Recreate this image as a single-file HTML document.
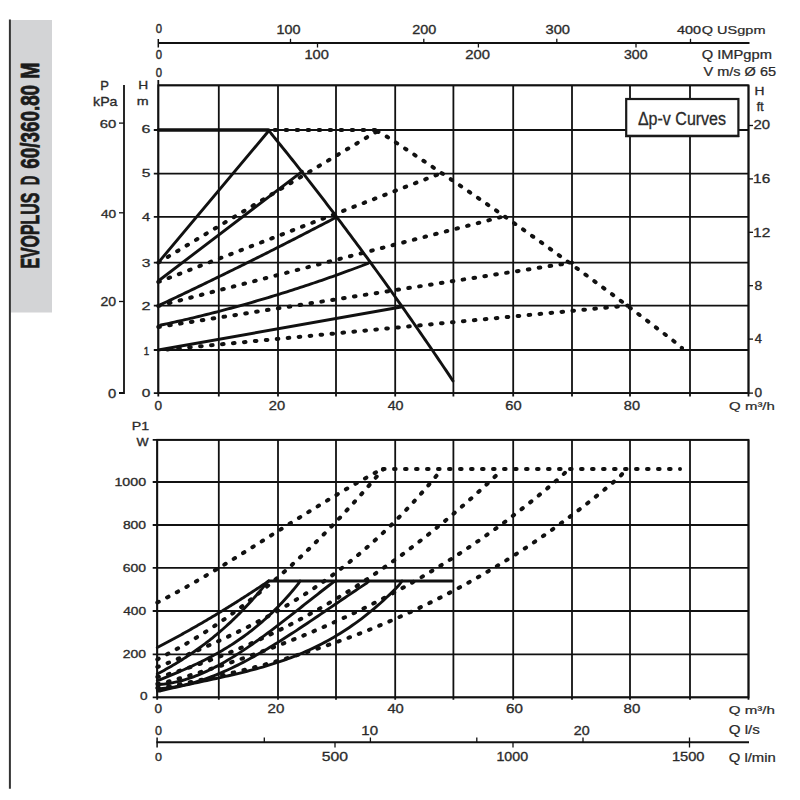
<!DOCTYPE html>
<html><head><meta charset="utf-8"><title>EVOPLUS D 60/360.80 M</title>
<style>
html,body{margin:0;padding:0;background:#fff;}
body{width:800px;height:800px;overflow:hidden;position:relative;}
svg{position:absolute;left:0;top:0;}
text{font-family:'Liberation Sans',Arial,sans-serif;font-kerning:none;}
</style></head><body>
<svg width="800" height="800" viewBox="0 0 800 800">
<rect x="0" y="0" width="800" height="800" fill="#fff"/>
<rect x="10.5" y="20" width="41.5" height="292.5" fill="#d3d4d6"/>
<line x1="9.9" y1="19.5" x2="9.9" y2="788.7" stroke="#333" stroke-width="2"/>
<text y="38.85" transform="translate(0,331.0) rotate(-90)" font-size="25.73" font-weight="bold" fill="#1b1b1b" stroke="#1b1b1b" stroke-width="0.8" stroke-linejoin="round"><tspan x="62.44" textLength="75.78" lengthAdjust="spacingAndGlyphs">EVOPLUS</tspan> <tspan x="145.72" textLength="9.54" lengthAdjust="spacingAndGlyphs">D</tspan> <tspan x="162.21" textLength="83.91" lengthAdjust="spacingAndGlyphs">60/360.80</tspan> <tspan x="252.20" textLength="16.20" lengthAdjust="spacingAndGlyphs">M</tspan></text>
<line x1="158.3" y1="80.0" x2="158.3" y2="396.6" stroke="#111" stroke-width="1.8"/>
<line x1="218.8" y1="85.3" x2="218.8" y2="396.6" stroke="#111" stroke-width="1.8"/>
<line x1="278.0" y1="85.3" x2="278.0" y2="396.6" stroke="#111" stroke-width="1.8"/>
<line x1="336.0" y1="85.3" x2="336.0" y2="396.6" stroke="#111" stroke-width="1.8"/>
<line x1="395.2" y1="85.3" x2="395.2" y2="396.6" stroke="#111" stroke-width="1.8"/>
<line x1="453.4" y1="85.3" x2="453.4" y2="396.6" stroke="#111" stroke-width="1.8"/>
<line x1="513.2" y1="85.3" x2="513.2" y2="396.6" stroke="#111" stroke-width="1.8"/>
<line x1="572.0" y1="85.3" x2="572.0" y2="396.6" stroke="#111" stroke-width="1.8"/>
<line x1="630.0" y1="85.3" x2="630.0" y2="396.6" stroke="#111" stroke-width="1.8"/>
<line x1="690.0" y1="85.3" x2="690.0" y2="396.6" stroke="#111" stroke-width="1.8"/>
<line x1="748.5" y1="85.3" x2="748.5" y2="396.6" stroke="#111" stroke-width="1.8"/>
<line x1="153.8" y1="393.1" x2="748.5" y2="393.1" stroke="#111" stroke-width="1.8"/>
<line x1="153.8" y1="350.0" x2="748.5" y2="350.0" stroke="#111" stroke-width="1.8"/>
<line x1="153.8" y1="305.6" x2="748.5" y2="305.6" stroke="#111" stroke-width="1.8"/>
<line x1="153.8" y1="262.6" x2="748.5" y2="262.6" stroke="#111" stroke-width="1.8"/>
<line x1="153.8" y1="216.8" x2="748.5" y2="216.8" stroke="#111" stroke-width="1.8"/>
<line x1="153.8" y1="173.6" x2="748.5" y2="173.6" stroke="#111" stroke-width="1.8"/>
<line x1="153.8" y1="130.0" x2="748.5" y2="130.0" stroke="#111" stroke-width="1.8"/>
<line x1="158.3" y1="85.3" x2="748.5" y2="85.3" stroke="#111" stroke-width="1.8"/>
<line x1="157.2" y1="439.8" x2="157.2" y2="699.8" stroke="#111" stroke-width="1.8"/>
<line x1="218.8" y1="439.8" x2="218.8" y2="699.8" stroke="#111" stroke-width="1.8"/>
<line x1="278.0" y1="439.8" x2="278.0" y2="699.8" stroke="#111" stroke-width="1.8"/>
<line x1="336.0" y1="439.8" x2="336.0" y2="699.8" stroke="#111" stroke-width="1.8"/>
<line x1="395.2" y1="439.8" x2="395.2" y2="699.8" stroke="#111" stroke-width="1.8"/>
<line x1="453.4" y1="439.8" x2="453.4" y2="699.8" stroke="#111" stroke-width="1.8"/>
<line x1="513.2" y1="439.8" x2="513.2" y2="699.8" stroke="#111" stroke-width="1.8"/>
<line x1="572.0" y1="439.8" x2="572.0" y2="699.8" stroke="#111" stroke-width="1.8"/>
<line x1="630.0" y1="439.8" x2="630.0" y2="699.8" stroke="#111" stroke-width="1.8"/>
<line x1="690.0" y1="439.8" x2="690.0" y2="699.8" stroke="#111" stroke-width="1.8"/>
<line x1="748.5" y1="439.8" x2="748.5" y2="699.8" stroke="#111" stroke-width="1.8"/>
<line x1="152.7" y1="697.3" x2="748.5" y2="697.3" stroke="#111" stroke-width="1.8"/>
<line x1="152.7" y1="654.3" x2="748.5" y2="654.3" stroke="#111" stroke-width="1.8"/>
<line x1="152.7" y1="611.0" x2="748.5" y2="611.0" stroke="#111" stroke-width="1.8"/>
<line x1="152.7" y1="567.8" x2="748.5" y2="567.8" stroke="#111" stroke-width="1.8"/>
<line x1="152.7" y1="525.0" x2="748.5" y2="525.0" stroke="#111" stroke-width="1.8"/>
<line x1="152.7" y1="482.0" x2="748.5" y2="482.0" stroke="#111" stroke-width="1.8"/>
<line x1="152.7" y1="439.8" x2="748.5" y2="439.8" stroke="#111" stroke-width="1.8"/>
<rect x="158.3" y="85.3" width="590.2" height="307.8" fill="none" stroke="#111" stroke-width="1.8"/>
<rect x="157.2" y="439.8" width="591.3" height="257.49999999999994" fill="none" stroke="#111" stroke-width="1.8"/>
<line x1="158.3" y1="43" x2="749.5" y2="43" stroke="#111" stroke-width="2"/>
<line x1="158.3" y1="39" x2="158.3" y2="47.5" stroke="#111" stroke-width="1.5"/>
<line x1="290.5" y1="38.8" x2="290.5" y2="43" stroke="#111" stroke-width="1.3"/>
<line x1="423.8" y1="38.8" x2="423.8" y2="43" stroke="#111" stroke-width="1.3"/>
<line x1="556.8" y1="38.8" x2="556.8" y2="43" stroke="#111" stroke-width="1.3"/>
<line x1="690.5" y1="38.8" x2="690.5" y2="43" stroke="#111" stroke-width="1.3"/>
<line x1="317.5" y1="43" x2="317.5" y2="47.5" stroke="#111" stroke-width="1.3"/>
<line x1="478.4" y1="43" x2="478.4" y2="47.5" stroke="#111" stroke-width="1.3"/>
<line x1="636.0" y1="43" x2="636.0" y2="47.5" stroke="#111" stroke-width="1.3"/>
<polyline points="124,85 124,393 119,393" fill="none" stroke="#111" stroke-width="1.8"/>
<line x1="119" y1="123.1" x2="124" y2="123.1" stroke="#111" stroke-width="1.3"/>
<line x1="119" y1="212.8" x2="124" y2="212.8" stroke="#111" stroke-width="1.3"/>
<line x1="119" y1="301.5" x2="124" y2="301.5" stroke="#111" stroke-width="1.3"/>
<line x1="748.5" y1="125.5" x2="753.0" y2="125.5" stroke="#111" stroke-width="1.3"/>
<line x1="748.5" y1="178.9" x2="753.0" y2="178.9" stroke="#111" stroke-width="1.3"/>
<line x1="748.5" y1="232.3" x2="753.0" y2="232.3" stroke="#111" stroke-width="1.3"/>
<line x1="748.5" y1="285.7" x2="753.0" y2="285.7" stroke="#111" stroke-width="1.3"/>
<line x1="748.5" y1="339.1" x2="753.0" y2="339.1" stroke="#111" stroke-width="1.3"/>
<line x1="748.5" y1="393.1" x2="753.0" y2="393.1" stroke="#111" stroke-width="1.3"/>
<line x1="156.4" y1="742.3" x2="749" y2="742.3" stroke="#111" stroke-width="2"/>
<line x1="157.1" y1="737.5" x2="157.1" y2="747.5" stroke="#111" stroke-width="1.5"/>
<line x1="264.3" y1="737.5" x2="264.3" y2="742.3" stroke="#111" stroke-width="1.3"/>
<line x1="370.4" y1="737.5" x2="370.4" y2="742.3" stroke="#111" stroke-width="1.3"/>
<line x1="476.8" y1="737.5" x2="476.8" y2="742.3" stroke="#111" stroke-width="1.3"/>
<line x1="583.0" y1="737.5" x2="583.0" y2="742.3" stroke="#111" stroke-width="1.3"/>
<line x1="689.5" y1="737.5" x2="689.5" y2="742.3" stroke="#111" stroke-width="1.3"/>
<line x1="335.0" y1="742.3" x2="335.0" y2="747.5" stroke="#111" stroke-width="1.3"/>
<line x1="513.0" y1="742.3" x2="513.0" y2="747.5" stroke="#111" stroke-width="1.3"/>
<line x1="689.5" y1="742.3" x2="689.5" y2="747.5" stroke="#111" stroke-width="1.3"/>
<path d="M158.30,130.00 L268.50,130.00" fill="none" stroke="#111" stroke-width="3.6" stroke-linejoin="round" stroke-linecap="round"/>
<path d="M158.30,262.60 L269.00,130.50" fill="none" stroke="#111" stroke-width="2.9" stroke-linejoin="round" stroke-linecap="round"/>
<path d="M269.00,130.50 L271.33,133.75 L273.66,136.60 L275.99,139.47 L278.32,142.34 L280.65,145.22 L282.97,148.11 L285.30,151.00 L287.63,153.91 L289.96,156.82 L292.29,159.74 L294.62,162.67 L296.95,165.60 L299.28,168.55 L301.61,171.50 L303.94,174.46 L306.27,177.43 L308.59,180.41 L310.92,183.39 L313.25,186.38 L315.58,189.39 L317.91,192.40 L320.24,195.41 L322.57,198.44 L324.90,201.47 L327.23,204.51 L329.56,207.56 L331.89,210.62 L334.22,213.69 L336.54,216.76 L338.87,219.85 L341.20,222.94 L343.53,226.04 L345.86,229.14 L348.19,232.26 L350.52,235.38 L352.85,238.51 L355.18,241.65 L357.51,244.80 L359.84,247.95 L362.16,251.12 L364.49,254.29 L366.82,257.47 L369.15,260.66 L371.48,263.85 L373.81,267.06 L376.14,270.27 L378.47,273.49 L380.80,276.72 L383.13,279.95 L385.46,283.20 L387.78,286.45 L390.11,289.71 L392.44,292.98 L394.77,296.26 L397.10,299.55 L399.43,302.84 L401.76,306.14 L404.09,309.45 L406.42,312.77 L408.75,316.09 L411.08,319.43 L413.41,322.77 L415.73,326.12 L418.06,329.48 L420.39,332.85 L422.72,336.22 L425.05,339.60 L427.38,342.99 L429.71,346.39 L432.04,349.80 L434.37,353.21 L436.70,356.64 L439.03,360.07 L441.35,363.51 L443.68,366.96 L446.01,370.41 L448.34,373.88 L450.67,377.35 L453.00,381.00" fill="none" stroke="#111" stroke-width="2.9" stroke-linejoin="round" stroke-linecap="round"/>
<path d="M158.30,281.00 L302.30,171.30" fill="none" stroke="#111" stroke-width="2.9" stroke-linejoin="round" stroke-linecap="round"/>
<path d="M158.30,306.00 L160.56,304.68 L162.81,303.62 L165.07,302.55 L167.32,301.49 L169.58,300.42 L171.83,299.36 L174.09,298.29 L176.35,297.22 L178.60,296.14 L180.86,295.07 L183.11,294.00 L185.37,292.92 L187.62,291.84 L189.88,290.76 L192.14,289.68 L194.39,288.60 L196.65,287.51 L198.90,286.42 L201.16,285.34 L203.41,284.25 L205.67,283.15 L207.93,282.06 L210.18,280.97 L212.44,279.87 L214.69,278.77 L216.95,277.67 L219.20,276.57 L221.46,275.47 L223.72,274.37 L225.97,273.26 L228.23,272.15 L230.48,271.05 L232.74,269.94 L234.99,268.82 L237.25,267.71 L239.51,266.60 L241.76,265.48 L244.02,264.36 L246.27,263.24 L248.53,262.12 L250.78,261.00 L253.04,259.87 L255.29,258.75 L257.55,257.62 L259.81,256.49 L262.06,255.36 L264.32,254.23 L266.57,253.09 L268.83,251.96 L271.08,250.82 L273.34,249.68 L275.60,248.54 L277.85,247.40 L280.11,246.25 L282.36,245.11 L284.62,243.96 L286.87,242.81 L289.13,241.66 L291.39,240.51 L293.64,239.36 L295.90,238.20 L298.15,237.05 L300.41,235.89 L302.66,234.73 L304.92,233.57 L307.18,232.41 L309.43,231.24 L311.69,230.08 L313.94,228.91 L316.20,227.74 L318.45,226.57 L320.71,225.40 L322.97,224.22 L325.22,223.05 L327.48,221.87 L329.73,220.69 L331.99,219.51 L334.24,218.33 L336.50,217.00" fill="none" stroke="#111" stroke-width="2.9" stroke-linejoin="round" stroke-linecap="round"/>
<path d="M158.30,327.00 L160.98,325.04 L163.66,324.47 L166.34,323.89 L169.02,323.31 L171.70,322.72 L174.38,322.12 L177.06,321.52 L179.74,320.92 L182.42,320.30 L185.10,319.68 L187.78,319.06 L190.46,318.43 L193.14,317.79 L195.82,317.15 L198.50,316.50 L201.18,315.84 L203.86,315.18 L206.54,314.52 L209.22,313.84 L211.89,313.16 L214.57,312.48 L217.25,311.79 L219.93,311.09 L222.61,310.39 L225.29,309.68 L227.97,308.97 L230.65,308.25 L233.33,307.52 L236.01,306.79 L238.69,306.05 L241.37,305.31 L244.05,304.56 L246.73,303.81 L249.41,303.05 L252.09,302.28 L254.77,301.51 L257.45,300.73 L260.13,299.94 L262.81,299.15 L265.49,298.35 L268.17,297.55 L270.85,296.74 L273.53,295.93 L276.21,295.11 L278.89,294.28 L281.57,293.45 L284.25,292.61 L286.93,291.77 L289.61,290.92 L292.29,290.06 L294.97,289.20 L297.65,288.33 L300.33,287.46 L303.01,286.58 L305.69,285.69 L308.37,284.80 L311.05,283.91 L313.73,283.00 L316.41,282.09 L319.08,281.18 L321.76,280.26 L324.44,279.33 L327.12,278.40 L329.80,277.46 L332.48,276.52 L335.16,275.57 L337.84,274.61 L340.52,273.65 L343.20,272.68 L345.88,271.70 L348.56,270.72 L351.24,269.74 L353.92,268.75 L356.60,267.75 L359.28,266.75 L361.96,265.74 L364.64,264.72 L367.32,263.70 L370.00,262.00" fill="none" stroke="#111" stroke-width="2.9" stroke-linejoin="round" stroke-linecap="round"/>
<path d="M158.30,350.00 L401.00,307.00" fill="none" stroke="#111" stroke-width="2.9" stroke-linejoin="round" stroke-linecap="round"/>
<path d="M269.00,130.00 L376.00,130.00" fill="none" stroke="#111" stroke-width="4.0" stroke-linecap="round" stroke-dasharray="1.6 9.4" stroke-dashoffset="-5.6"/>
<path d="M158.30,262.60 L161.07,260.94 L163.84,259.27 L166.61,257.60 L169.37,255.93 L172.14,254.27 L174.91,252.60 L177.68,250.93 L180.45,249.26 L183.22,247.60 L185.98,245.93 L188.75,244.26 L191.52,242.60 L194.29,240.93 L197.06,239.26 L199.83,237.60 L202.59,235.93 L205.36,234.26 L208.13,232.60 L210.90,230.93 L213.67,229.27 L216.44,227.60 L219.20,225.94 L221.97,224.27 L224.74,222.61 L227.51,220.94 L230.28,219.28 L233.05,217.62 L235.81,215.95 L238.58,214.29 L241.35,212.63 L244.12,210.96 L246.89,209.30 L249.66,207.64 L252.42,205.97 L255.19,204.31 L257.96,202.65 L260.73,200.99 L263.50,199.32 L266.27,197.66 L269.03,196.00 L271.80,194.34 L274.57,192.68 L277.34,191.02 L280.11,189.35 L282.88,187.69 L285.64,186.03 L288.41,184.37 L291.18,182.71 L293.95,181.05 L296.72,179.39 L299.49,177.73 L302.25,176.07 L305.02,174.41 L307.79,172.75 L310.56,171.09 L313.33,169.44 L316.10,167.78 L318.86,166.12 L321.63,164.46 L324.40,162.80 L327.17,161.14 L329.94,159.49 L332.71,157.83 L335.47,156.17 L338.24,154.51 L341.01,152.86 L343.78,151.20 L346.55,149.54 L349.32,147.89 L352.08,146.23 L354.85,144.57 L357.62,142.92 L360.39,141.26 L363.16,139.61 L365.93,137.95 L368.69,136.29 L371.46,134.64 L374.23,132.98 L377.00,131.50" fill="none" stroke="#111" stroke-width="4.0" stroke-linecap="round" stroke-dasharray="1.6 9.4" stroke-dashoffset="0"/>
<path d="M377.00,131.50 L380.86,132.71 L384.72,135.22 L388.58,137.75 L392.44,140.28 L396.30,142.81 L400.16,145.36 L404.03,147.90 L407.89,150.46 L411.75,153.02 L415.61,155.59 L419.47,158.16 L423.33,160.74 L427.19,163.32 L431.05,165.91 L434.91,168.51 L438.77,171.11 L442.63,173.72 L446.49,176.34 L450.35,178.96 L454.22,181.59 L458.08,184.22 L461.94,186.86 L465.80,189.51 L469.66,192.16 L473.52,194.82 L477.38,197.49 L481.24,200.16 L485.10,202.83 L488.96,205.52 L492.82,208.21 L496.68,210.90 L500.54,213.60 L504.41,216.31 L508.27,219.02 L512.13,221.74 L515.99,224.47 L519.85,227.20 L523.71,229.94 L527.57,232.68 L531.43,235.44 L535.29,238.19 L539.15,240.95 L543.01,243.72 L546.87,246.50 L550.73,249.28 L554.59,252.07 L558.46,254.86 L562.32,257.66 L566.18,260.47 L570.04,263.28 L573.90,266.10 L577.76,268.92 L581.62,271.75 L585.48,274.59 L589.34,277.43 L593.20,280.28 L597.06,283.13 L600.92,285.99 L604.78,288.86 L608.65,291.73 L612.51,294.61 L616.37,297.50 L620.23,300.39 L624.09,303.29 L627.95,306.19 L631.81,309.10 L635.67,312.02 L639.53,314.94 L643.39,317.87 L647.25,320.80 L651.11,323.74 L654.97,326.69 L658.84,329.64 L662.70,332.60 L666.56,335.56 L670.42,338.54 L674.28,341.51 L678.14,344.50 L682.00,348.00" fill="none" stroke="#111" stroke-width="4.0" stroke-linecap="round" stroke-dasharray="1.6 9.4" stroke-dashoffset="0"/>
<path d="M158.30,282.00 L438.00,174.40" fill="none" stroke="#111" stroke-width="4.0" stroke-linecap="round" stroke-dasharray="1.6 9.4" stroke-dashoffset="0"/>
<path d="M158.30,306.00 L502.00,216.80" fill="none" stroke="#111" stroke-width="4.0" stroke-linecap="round" stroke-dasharray="1.6 9.4" stroke-dashoffset="0"/>
<path d="M158.30,327.00 L572.00,262.60" fill="none" stroke="#111" stroke-width="4.0" stroke-linecap="round" stroke-dasharray="1.6 9.4" stroke-dashoffset="0"/>
<path d="M158.30,350.30 L627.50,305.60" fill="none" stroke="#111" stroke-width="4.0" stroke-linecap="round" stroke-dasharray="1.6 9.4" stroke-dashoffset="2"/>
<path d="M268.70,581.00 L452.00,581.00" fill="none" stroke="#111" stroke-width="3.2" stroke-linejoin="round" stroke-linecap="round"/>
<path d="M157.30,647.50 L158.71,646.77 L160.12,646.03 L161.53,645.29 L162.94,644.55 L164.35,643.80 L165.76,643.06 L167.17,642.31 L168.58,641.55 L169.99,640.80 L171.40,640.04 L172.81,639.28 L174.22,638.51 L175.63,637.75 L177.04,636.98 L178.45,636.20 L179.86,635.43 L181.27,634.65 L182.68,633.87 L184.09,633.09 L185.50,632.30 L186.91,631.51 L188.32,630.72 L189.73,629.92 L191.14,629.13 L192.55,628.33 L193.96,627.52 L195.37,626.72 L196.78,625.91 L198.19,625.10 L199.60,624.28 L201.01,623.47 L202.42,622.65 L203.83,621.83 L205.24,621.00 L206.65,620.17 L208.06,619.34 L209.47,618.51 L210.88,617.67 L212.29,616.83 L213.71,615.99 L215.12,615.15 L216.53,614.30 L217.94,613.45 L219.35,612.60 L220.76,611.74 L222.17,610.88 L223.58,610.02 L224.99,609.16 L226.40,608.29 L227.81,607.42 L229.22,606.55 L230.63,605.67 L232.04,604.80 L233.45,603.92 L234.86,603.03 L236.27,602.15 L237.68,601.26 L239.09,600.37 L240.50,599.47 L241.91,598.57 L243.32,597.67 L244.73,596.77 L246.14,595.87 L247.55,594.96 L248.96,594.05 L250.37,593.13 L251.78,592.22 L253.19,591.30 L254.60,590.37 L256.01,589.45 L257.42,588.52 L258.83,587.59 L260.24,586.66 L261.65,585.72 L263.06,584.78 L264.47,583.84 L265.88,582.90 L267.29,581.95 L268.70,581.00" fill="none" stroke="#111" stroke-width="2.9" stroke-linejoin="round" stroke-linecap="round"/>
<path d="M157.30,674.00 L158.71,673.21 L160.12,672.45 L161.53,671.69 L162.94,670.92 L164.35,670.15 L165.76,669.36 L167.17,668.57 L168.58,667.77 L169.99,666.96 L171.40,666.15 L172.81,665.32 L174.22,664.48 L175.63,663.64 L177.04,662.79 L178.45,661.93 L179.86,661.05 L181.27,660.17 L182.68,659.28 L184.09,658.38 L185.50,657.47 L186.91,656.55 L188.32,655.61 L189.73,654.67 L191.14,653.72 L192.55,652.75 L193.96,651.78 L195.37,650.79 L196.78,649.79 L198.19,648.79 L199.60,647.76 L201.01,646.73 L202.42,645.69 L203.83,644.63 L205.24,643.56 L206.65,642.48 L208.06,641.39 L209.47,640.28 L210.88,639.16 L212.29,638.03 L213.71,636.89 L215.12,635.73 L216.53,634.56 L217.94,633.37 L219.35,632.17 L220.76,630.96 L222.17,629.73 L223.58,628.49 L224.99,627.24 L226.40,625.97 L227.81,624.68 L229.22,623.38 L230.63,622.07 L232.04,620.74 L233.45,619.40 L234.86,618.04 L236.27,616.66 L237.68,615.27 L239.09,613.87 L240.50,612.44 L241.91,611.01 L243.32,609.55 L244.73,608.08 L246.14,606.59 L247.55,605.09 L248.96,603.57 L250.37,602.03 L251.78,600.47 L253.19,598.90 L254.60,597.31 L256.01,595.70 L257.42,594.07 L258.83,592.43 L260.24,590.77 L261.65,589.09 L263.06,587.39 L264.47,585.67 L265.88,583.94 L267.29,582.18 L268.70,581.00" fill="none" stroke="#111" stroke-width="2.9" stroke-linejoin="round" stroke-linecap="round"/>
<path d="M157.30,680.50 L159.11,680.08 L160.91,679.34 L162.72,678.60 L164.53,677.86 L166.33,677.12 L168.14,676.37 L169.94,675.62 L171.75,674.87 L173.56,674.12 L175.36,673.36 L177.17,672.59 L178.98,671.82 L180.78,671.04 L182.59,670.26 L184.39,669.47 L186.20,668.67 L188.01,667.87 L189.81,667.05 L191.62,666.23 L193.43,665.40 L195.23,664.55 L197.04,663.70 L198.85,662.84 L200.65,661.96 L202.46,661.08 L204.26,660.18 L206.07,659.26 L207.88,658.34 L209.68,657.40 L211.49,656.44 L213.30,655.48 L215.10,654.49 L216.91,653.49 L218.72,652.47 L220.52,651.44 L222.33,650.39 L224.13,649.32 L225.94,648.23 L227.75,647.13 L229.55,646.00 L231.36,644.85 L233.17,643.69 L234.97,642.50 L236.78,641.29 L238.58,640.06 L240.39,638.81 L242.20,637.53 L244.00,636.23 L245.81,634.91 L247.62,633.56 L249.42,632.19 L251.23,630.79 L253.04,629.37 L254.84,627.92 L256.65,626.44 L258.45,624.94 L260.26,623.40 L262.07,621.84 L263.87,620.25 L265.68,618.63 L267.49,616.98 L269.29,615.30 L271.10,613.59 L272.91,611.85 L274.71,610.08 L276.52,608.27 L278.32,606.43 L280.13,604.56 L281.94,602.65 L283.74,600.71 L285.55,598.74 L287.36,596.72 L289.16,594.68 L290.97,592.59 L292.77,590.47 L294.58,588.32 L296.39,586.12 L298.19,583.89 L300.00,581.00" fill="none" stroke="#111" stroke-width="2.9" stroke-linejoin="round" stroke-linecap="round"/>
<path d="M157.30,685.40 L159.56,684.49 L161.82,684.30 L164.09,684.07 L166.35,683.79 L168.61,683.46 L170.87,683.08 L173.13,682.65 L175.40,682.18 L177.66,681.66 L179.92,681.09 L182.18,680.49 L184.44,679.83 L186.71,679.14 L188.97,678.41 L191.23,677.63 L193.49,676.81 L195.75,675.96 L198.02,675.07 L200.28,674.14 L202.54,673.17 L204.80,672.17 L207.06,671.13 L209.33,670.05 L211.59,668.95 L213.85,667.81 L216.11,666.64 L218.37,665.44 L220.64,664.21 L222.90,662.94 L225.16,661.65 L227.42,660.34 L229.68,658.99 L231.95,657.62 L234.21,656.22 L236.47,654.80 L238.73,653.36 L240.99,651.89 L243.26,650.40 L245.52,648.88 L247.78,647.35 L250.04,645.80 L252.31,644.23 L254.57,642.64 L256.83,641.03 L259.09,639.41 L261.35,637.77 L263.62,636.11 L265.88,634.45 L268.14,632.76 L270.40,631.07 L272.66,629.36 L274.93,627.65 L277.19,625.92 L279.45,624.18 L281.71,622.44 L283.97,620.69 L286.24,618.93 L288.50,617.16 L290.76,615.39 L293.02,613.62 L295.28,611.84 L297.55,610.05 L299.81,608.27 L302.07,606.49 L304.33,604.70 L306.59,602.91 L308.86,601.13 L311.12,599.35 L313.38,597.57 L315.64,595.79 L317.90,594.02 L320.17,592.26 L322.43,590.50 L324.69,588.74 L326.95,587.00 L329.21,585.26 L331.48,583.53 L333.74,581.81 L336.00,581.00" fill="none" stroke="#111" stroke-width="2.9" stroke-linejoin="round" stroke-linecap="round"/>
<path d="M157.30,688.60 L159.98,688.62 L162.66,688.42 L165.34,688.17 L168.02,687.87 L170.70,687.52 L173.38,687.12 L176.06,686.67 L178.74,686.18 L181.42,685.64 L184.10,685.05 L186.78,684.42 L189.46,683.75 L192.14,683.03 L194.82,682.27 L197.50,681.48 L200.18,680.64 L202.86,679.76 L205.54,678.84 L208.22,677.88 L210.89,676.89 L213.57,675.86 L216.25,674.80 L218.93,673.70 L221.61,672.57 L224.29,671.40 L226.97,670.20 L229.65,668.97 L232.33,667.71 L235.01,666.42 L237.69,665.10 L240.37,663.75 L243.05,662.38 L245.73,660.97 L248.41,659.55 L251.09,658.09 L253.77,656.62 L256.45,655.11 L259.13,653.59 L261.81,652.05 L264.49,650.48 L267.17,648.89 L269.85,647.29 L272.53,645.66 L275.21,644.02 L277.89,642.36 L280.57,640.69 L283.25,638.99 L285.93,637.29 L288.61,635.57 L291.29,633.84 L293.97,632.09 L296.65,630.34 L299.33,628.57 L302.01,626.80 L304.69,625.01 L307.37,623.22 L310.05,621.42 L312.73,619.61 L315.41,617.80 L318.08,615.98 L320.76,614.16 L323.44,612.33 L326.12,610.50 L328.80,608.67 L331.48,606.84 L334.16,605.01 L336.84,603.18 L339.52,601.36 L342.20,599.53 L344.88,597.71 L347.56,595.89 L350.24,594.08 L352.92,592.27 L355.60,590.47 L358.28,588.67 L360.96,586.88 L363.64,585.11 L366.32,583.34 L369.00,581.00" fill="none" stroke="#111" stroke-width="2.9" stroke-linejoin="round" stroke-linecap="round"/>
<path d="M157.30,691.00 L160.40,690.96 L163.49,690.18 L166.59,689.42 L169.69,688.68 L172.79,687.95 L175.88,687.24 L178.98,686.53 L182.08,685.84 L185.18,685.15 L188.27,684.47 L191.37,683.80 L194.47,683.13 L197.57,682.46 L200.66,681.80 L203.76,681.14 L206.86,680.48 L209.96,679.81 L213.05,679.15 L216.15,678.48 L219.25,677.80 L222.35,677.12 L225.44,676.43 L228.54,675.73 L231.64,675.02 L234.74,674.29 L237.83,673.56 L240.93,672.81 L244.03,672.04 L247.13,671.26 L250.22,670.45 L253.32,669.63 L256.42,668.79 L259.52,667.93 L262.61,667.04 L265.71,666.13 L268.81,665.19 L271.91,664.22 L275.00,663.23 L278.10,662.20 L281.20,661.15 L284.30,660.06 L287.39,658.94 L290.49,657.78 L293.59,656.59 L296.69,655.36 L299.78,654.09 L302.88,652.78 L305.98,651.43 L309.08,650.03 L312.17,648.59 L315.27,647.11 L318.37,645.58 L321.47,644.00 L324.56,642.38 L327.66,640.70 L330.76,638.97 L333.86,637.19 L336.95,635.35 L340.05,633.46 L343.15,631.51 L346.25,629.51 L349.34,627.44 L352.44,625.31 L355.54,623.13 L358.64,620.87 L361.73,618.56 L364.83,616.17 L367.93,613.73 L371.03,611.21 L374.12,608.62 L377.22,605.96 L380.32,603.23 L383.42,600.43 L386.51,597.55 L389.61,594.59 L392.71,591.56 L395.81,588.45 L398.90,585.26 L402.00,581.00" fill="none" stroke="#111" stroke-width="2.9" stroke-linejoin="round" stroke-linecap="round"/>
<path d="M383.00,469.00 L680.00,469.00" fill="none" stroke="#111" stroke-width="4.0" stroke-linecap="round" stroke-dasharray="1.6 9.4" stroke-dashoffset="0"/>
<path d="M157.30,602.50 L160.16,601.04 L163.01,599.57 L165.87,598.07 L168.73,596.56 L171.58,595.03 L174.44,593.49 L177.30,591.94 L180.16,590.37 L183.01,588.78 L185.87,587.19 L188.73,585.58 L191.58,583.95 L194.44,582.32 L197.30,580.67 L200.15,579.02 L203.01,577.35 L205.87,575.67 L208.73,573.98 L211.58,572.28 L214.44,570.58 L217.30,568.86 L220.15,567.13 L223.01,565.40 L225.87,563.66 L228.72,561.92 L231.58,560.16 L234.44,558.40 L237.29,556.64 L240.15,554.87 L243.01,553.09 L245.87,551.31 L248.72,549.53 L251.58,547.74 L254.44,545.95 L257.29,544.15 L260.15,542.36 L263.01,540.56 L265.86,538.76 L268.72,536.95 L271.58,535.15 L274.44,533.35 L277.29,531.55 L280.15,529.74 L283.01,527.94 L285.86,526.14 L288.72,524.34 L291.58,522.55 L294.43,520.75 L297.29,518.96 L300.15,517.17 L303.01,515.39 L305.86,513.61 L308.72,511.83 L311.58,510.06 L314.43,508.30 L317.29,506.54 L320.15,504.79 L323.00,503.04 L325.86,501.30 L328.72,499.57 L331.57,497.85 L334.43,496.13 L337.29,494.42 L340.15,492.73 L343.00,491.04 L345.86,489.36 L348.72,487.69 L351.57,486.04 L354.43,484.39 L357.29,482.76 L360.14,481.14 L363.00,479.53 L365.86,477.93 L368.72,476.35 L371.57,474.78 L374.43,473.23 L377.29,471.69 L380.14,470.16 L383.00,469.50" fill="none" stroke="#111" stroke-width="4.0" stroke-linecap="round" stroke-dasharray="1.6 9.4" stroke-dashoffset="0"/>
<path d="M157.30,659.50 L160.16,657.85 L163.01,656.40 L165.87,654.93 L168.73,653.43 L171.58,651.90 L174.44,650.35 L177.30,648.78 L180.16,647.18 L183.01,645.55 L185.87,643.91 L188.73,642.23 L191.58,640.53 L194.44,638.81 L197.30,637.06 L200.15,635.28 L203.01,633.48 L205.87,631.66 L208.73,629.81 L211.58,627.93 L214.44,626.03 L217.30,624.11 L220.15,622.16 L223.01,620.18 L225.87,618.18 L228.72,616.15 L231.58,614.10 L234.44,612.03 L237.29,609.93 L240.15,607.80 L243.01,605.65 L245.87,603.47 L248.72,601.27 L251.58,599.04 L254.44,596.79 L257.29,594.51 L260.15,592.21 L263.01,589.88 L265.86,587.52 L268.72,585.14 L271.58,582.74 L274.44,580.31 L277.29,577.86 L280.15,575.38 L283.01,572.87 L285.86,570.34 L288.72,567.78 L291.58,565.20 L294.43,562.59 L297.29,559.96 L300.15,557.30 L303.01,554.62 L305.86,551.91 L308.72,549.18 L311.58,546.42 L314.43,543.63 L317.29,540.82 L320.15,537.98 L323.00,535.12 L325.86,532.23 L328.72,529.32 L331.57,526.38 L334.43,523.42 L337.29,520.43 L340.15,517.42 L343.00,514.38 L345.86,511.31 L348.72,508.22 L351.57,505.10 L354.43,501.96 L357.29,498.79 L360.14,495.60 L363.00,492.38 L365.86,489.13 L368.72,485.86 L371.57,482.56 L374.43,479.24 L377.29,475.89 L380.14,472.52 L383.00,469.50" fill="none" stroke="#111" stroke-width="4.0" stroke-linecap="round" stroke-dasharray="1.6 9.4" stroke-dashoffset="0"/>
<path d="M157.30,667.00 L160.89,665.84 L164.48,664.36 L168.07,662.88 L171.66,661.39 L175.26,659.89 L178.85,658.39 L182.44,656.88 L186.03,655.35 L189.62,653.82 L193.21,652.28 L196.80,650.73 L200.39,649.16 L203.98,647.58 L207.58,645.99 L211.17,644.38 L214.76,642.76 L218.35,641.12 L221.94,639.46 L225.53,637.78 L229.12,636.09 L232.71,634.37 L236.31,632.63 L239.90,630.87 L243.49,629.09 L247.08,627.28 L250.67,625.45 L254.26,623.59 L257.85,621.71 L261.44,619.80 L265.03,617.86 L268.63,615.89 L272.22,613.90 L275.81,611.87 L279.40,609.81 L282.99,607.71 L286.58,605.59 L290.17,603.43 L293.76,601.23 L297.35,599.00 L300.95,596.73 L304.54,594.43 L308.13,592.08 L311.72,589.70 L315.31,587.28 L318.90,584.81 L322.49,582.30 L326.08,579.75 L329.67,577.16 L333.27,574.52 L336.86,571.83 L340.45,569.10 L344.04,566.32 L347.63,563.50 L351.22,560.62 L354.81,557.69 L358.40,554.72 L361.99,551.69 L365.59,548.61 L369.18,545.47 L372.77,542.28 L376.36,539.04 L379.95,535.74 L383.54,532.38 L387.13,528.97 L390.72,525.50 L394.32,521.96 L397.91,518.37 L401.50,514.71 L405.09,511.00 L408.68,507.22 L412.27,503.37 L415.86,499.46 L419.45,495.49 L423.04,491.45 L426.64,487.34 L430.23,483.16 L433.82,478.92 L437.41,474.60 L441.00,469.50" fill="none" stroke="#111" stroke-width="4.0" stroke-linecap="round" stroke-dasharray="1.6 9.4" stroke-dashoffset="0"/>
<path d="M157.30,677.00 L161.66,676.23 L166.03,674.94 L170.39,673.62 L174.75,672.27 L179.12,670.88 L183.48,669.47 L187.84,668.02 L192.21,666.54 L196.57,665.03 L200.93,663.49 L205.30,661.92 L209.66,660.31 L214.02,658.67 L218.39,657.00 L222.75,655.29 L227.11,653.55 L231.48,651.78 L235.84,649.97 L240.20,648.14 L244.57,646.26 L248.93,644.36 L253.29,642.42 L257.66,640.44 L262.02,638.43 L266.38,636.39 L270.75,634.31 L275.11,632.19 L279.47,630.05 L283.84,627.86 L288.20,625.64 L292.56,623.39 L296.93,621.10 L301.29,618.77 L305.65,616.41 L310.02,614.01 L314.38,611.57 L318.74,609.10 L323.11,606.59 L327.47,604.04 L331.83,601.46 L336.19,598.84 L340.56,596.18 L344.92,593.49 L349.28,590.75 L353.65,587.98 L358.01,585.17 L362.37,582.32 L366.74,579.44 L371.10,576.51 L375.46,573.55 L379.83,570.54 L384.19,567.50 L388.55,564.42 L392.92,561.30 L397.28,558.14 L401.64,554.94 L406.01,551.70 L410.37,548.42 L414.73,545.10 L419.10,541.74 L423.46,538.33 L427.82,534.89 L432.19,531.41 L436.55,527.88 L440.91,524.31 L445.28,520.71 L449.64,517.06 L454.00,513.36 L458.37,509.63 L462.73,505.85 L467.09,502.04 L471.46,498.18 L475.82,494.27 L480.18,490.33 L484.55,486.34 L488.91,482.30 L493.27,478.23 L497.64,474.11 L502.00,469.50" fill="none" stroke="#111" stroke-width="4.0" stroke-linecap="round" stroke-dasharray="1.6 9.4" stroke-dashoffset="0"/>
<path d="M157.30,684.00 L162.50,683.29 L167.70,681.82 L172.90,680.34 L178.09,678.83 L183.29,677.31 L188.49,675.77 L193.69,674.21 L198.89,672.63 L204.09,671.03 L209.29,669.41 L214.49,667.76 L219.68,666.09 L224.88,664.39 L230.08,662.68 L235.28,660.93 L240.48,659.17 L245.68,657.37 L250.88,655.55 L256.08,653.70 L261.27,651.83 L266.47,649.92 L271.67,647.99 L276.87,646.02 L282.07,644.03 L287.27,642.01 L292.47,639.95 L297.67,637.86 L302.86,635.74 L308.06,633.59 L313.26,631.40 L318.46,629.18 L323.66,626.93 L328.86,624.63 L334.06,622.31 L339.26,619.94 L344.45,617.54 L349.65,615.10 L354.85,612.62 L360.05,610.10 L365.25,607.54 L370.45,604.95 L375.65,602.31 L380.85,599.63 L386.04,596.91 L391.24,594.14 L396.44,591.33 L401.64,588.48 L406.84,585.58 L412.04,582.64 L417.24,579.66 L422.44,576.62 L427.63,573.54 L432.83,570.41 L438.03,567.24 L443.23,564.01 L448.43,560.74 L453.63,557.42 L458.83,554.04 L464.03,550.62 L469.22,547.14 L474.42,543.61 L479.62,540.03 L484.82,536.40 L490.02,532.71 L495.22,528.97 L500.42,525.17 L505.62,521.31 L510.81,517.40 L516.01,513.44 L521.21,509.41 L526.41,505.33 L531.61,501.19 L536.81,496.99 L542.01,492.73 L547.21,488.41 L552.40,484.02 L557.60,479.58 L562.80,475.07 L568.00,469.50" fill="none" stroke="#111" stroke-width="4.0" stroke-linecap="round" stroke-dasharray="1.6 9.4" stroke-dashoffset="0"/>
<path d="M157.30,688.00 L163.23,687.42 L169.17,686.32 L175.10,685.19 L181.03,684.04 L186.96,682.85 L192.90,681.65 L198.83,680.41 L204.76,679.14 L210.70,677.85 L216.63,676.52 L222.56,675.16 L228.49,673.78 L234.43,672.35 L240.36,670.90 L246.29,669.41 L252.23,667.89 L258.16,666.33 L264.09,664.74 L270.03,663.11 L275.96,661.44 L281.89,659.73 L287.82,657.99 L293.76,656.20 L299.69,654.38 L305.62,652.51 L311.56,650.61 L317.49,648.66 L323.42,646.67 L329.35,644.63 L335.29,642.55 L341.22,640.42 L347.15,638.25 L353.09,636.03 L359.02,633.77 L364.95,631.45 L370.88,629.09 L376.82,626.68 L382.75,624.21 L388.68,621.70 L394.62,619.14 L400.55,616.52 L406.48,613.85 L412.42,611.13 L418.35,608.35 L424.28,605.51 L430.21,602.62 L436.15,599.68 L442.08,596.68 L448.01,593.61 L453.95,590.50 L459.88,587.32 L465.81,584.08 L471.74,580.78 L477.68,577.42 L483.61,573.99 L489.54,570.51 L495.48,566.95 L501.41,563.34 L507.34,559.66 L513.27,555.92 L519.21,552.10 L525.14,548.22 L531.07,544.28 L537.01,540.26 L542.94,536.18 L548.87,532.02 L554.81,527.80 L560.74,523.50 L566.67,519.13 L572.60,514.69 L578.54,510.17 L584.47,505.58 L590.40,500.92 L596.34,496.18 L602.27,491.36 L608.20,486.46 L614.13,481.49 L620.07,476.44 L626.00,469.50" fill="none" stroke="#111" stroke-width="4.0" stroke-linecap="round" stroke-dasharray="1.6 9.4" stroke-dashoffset="0"/>
<rect x="626.2" y="99.0" width="112.2" height="36.8" fill="#fff" stroke="#1a1a1a" stroke-width="2.2"/>
<line x1="625.1" y1="136.6" x2="739.3" y2="136.6" stroke="#1a1a1a" stroke-width="1.4"/>
<text transform="translate(155.86,33.30) scale(0.925,1)" font-size="12.21" font-weight="normal" fill="#2a2a2a" stroke="#2a2a2a" stroke-width="0.41">0</text>
<text transform="translate(276.51,33.60) scale(1.162,1)" font-size="12.35" font-weight="normal" fill="#2a2a2a" stroke="#2a2a2a" stroke-width="0.33">100</text>
<text transform="translate(412.28,33.60) scale(1.166,1)" font-size="12.35" font-weight="normal" fill="#2a2a2a" stroke="#2a2a2a" stroke-width="0.33">200</text>
<text transform="translate(545.54,33.60) scale(1.190,1)" font-size="12.35" font-weight="normal" fill="#2a2a2a" stroke="#2a2a2a" stroke-width="0.32">300</text>
<text transform="translate(677.07,33.90) scale(1.252,1)" font-size="11.48" font-weight="normal" fill="#2a2a2a" stroke="#2a2a2a" stroke-width="0.30">400</text>
<text transform="translate(701.81,34.10) scale(1.348,1)" font-size="10.76" font-weight="normal" fill="#2a2a2a" stroke="#2a2a2a" stroke-width="0.21">Q USgpm</text>
<text transform="translate(155.86,59.30) scale(0.883,1)" font-size="12.79" font-weight="normal" fill="#2a2a2a" stroke="#2a2a2a" stroke-width="0.43">0</text>
<text transform="translate(304.38,59.10) scale(1.172,1)" font-size="12.50" font-weight="normal" fill="#2a2a2a" stroke="#2a2a2a" stroke-width="0.32">100</text>
<text transform="translate(465.35,59.10) scale(1.185,1)" font-size="12.50" font-weight="normal" fill="#2a2a2a" stroke="#2a2a2a" stroke-width="0.32">200</text>
<text transform="translate(623.96,59.10) scale(1.131,1)" font-size="12.50" font-weight="normal" fill="#2a2a2a" stroke="#2a2a2a" stroke-width="0.34">300</text>
<text transform="translate(701.80,59.20) scale(1.161,1)" font-size="12.65" font-weight="normal" fill="#2a2a2a" stroke="#2a2a2a" stroke-width="0.24">Q IMPgpm</text>
<text transform="translate(155.86,76.50) scale(0.925,1)" font-size="12.21" font-weight="normal" fill="#2a2a2a" stroke="#2a2a2a" stroke-width="0.41">0</text>
<text transform="translate(703.44,76.20) scale(1.149,1)" font-size="12.65" font-weight="normal" fill="#2a2a2a" stroke="#2a2a2a" stroke-width="0.24">V m/s Ø 65</text>
<text transform="translate(100.34,90.30) scale(1.088,1)" font-size="11.92" font-weight="normal" fill="#2a2a2a" stroke="#2a2a2a" stroke-width="0.35">P</text>
<text transform="translate(93.04,106.00) scale(1.191,1)" font-size="11.92" font-weight="normal" fill="#2a2a2a" stroke="#2a2a2a" stroke-width="0.32">kPa</text>
<text transform="translate(138.37,89.10) scale(1.200,1)" font-size="11.48" font-weight="normal" fill="#2a2a2a" stroke="#2a2a2a" stroke-width="0.32">H</text>
<text transform="translate(136.75,105.30) scale(1.216,1)" font-size="11.74" font-weight="normal" fill="#2a2a2a" stroke="#2a2a2a" stroke-width="0.31">m</text>
<text transform="translate(99.75,128.10) scale(1.346,1)" font-size="11.05" font-weight="normal" fill="#2a2a2a" stroke="#2a2a2a" stroke-width="0.28">60</text>
<text transform="translate(100.89,218.20) scale(1.165,1)" font-size="11.77" font-weight="normal" fill="#2a2a2a" stroke="#2a2a2a" stroke-width="0.33">40</text>
<text transform="translate(100.49,305.70) scale(1.181,1)" font-size="11.92" font-weight="normal" fill="#2a2a2a" stroke="#2a2a2a" stroke-width="0.32">20</text>
<text transform="translate(107.92,397.80) scale(1.217,1)" font-size="12.21" font-weight="normal" fill="#2a2a2a" stroke="#2a2a2a" stroke-width="0.31">0</text>
<text transform="translate(141.49,133.30) scale(1.397,1)" font-size="11.48" font-weight="normal" fill="#2a2a2a" stroke="#2a2a2a" stroke-width="0.27">6</text>
<text transform="translate(141.68,176.50) scale(1.359,1)" font-size="11.48" font-weight="normal" fill="#2a2a2a" stroke="#2a2a2a" stroke-width="0.28">5</text>
<text transform="translate(141.96,221.20) scale(1.279,1)" font-size="11.48" font-weight="normal" fill="#2a2a2a" stroke="#2a2a2a" stroke-width="0.30">4</text>
<text transform="translate(141.71,266.70) scale(1.359,1)" font-size="11.48" font-weight="normal" fill="#2a2a2a" stroke="#2a2a2a" stroke-width="0.28">3</text>
<text transform="translate(141.48,310.40) scale(1.415,1)" font-size="11.48" font-weight="normal" fill="#2a2a2a" stroke="#2a2a2a" stroke-width="0.27">2</text>
<text transform="translate(141.70,397.30) scale(1.348,1)" font-size="11.48" font-weight="normal" fill="#2a2a2a" stroke="#2a2a2a" stroke-width="0.28">0</text>
<text transform="translate(143.76,355.00) scale(0.848,1)" font-size="11.48" font-weight="normal" fill="#2a2a2a" stroke="#2a2a2a" stroke-width="0.45">1</text>
<text transform="translate(754.57,95.10) scale(1.185,1)" font-size="11.63" font-weight="normal" fill="#2a2a2a" stroke="#2a2a2a" stroke-width="0.32">H</text>
<text transform="translate(756.83,110.90) scale(0.981,1)" font-size="12.21" font-weight="normal" fill="#2a2a2a" stroke="#2a2a2a" stroke-width="0.39">ft</text>
<text transform="translate(753.50,129.20) scale(1.251,1)" font-size="11.92" font-weight="normal" fill="#2a2a2a" stroke="#2a2a2a" stroke-width="0.30">20</text>
<text transform="translate(753.08,183.10) scale(1.290,1)" font-size="11.92" font-weight="normal" fill="#2a2a2a" stroke="#2a2a2a" stroke-width="0.29">16</text>
<text transform="translate(753.07,236.50) scale(1.298,1)" font-size="11.92" font-weight="normal" fill="#2a2a2a" stroke="#2a2a2a" stroke-width="0.29">12</text>
<text transform="translate(754.40,289.90) scale(1.162,1)" font-size="11.92" font-weight="normal" fill="#2a2a2a" stroke="#2a2a2a" stroke-width="0.33">8</text>
<text transform="translate(754.70,343.30) scale(1.082,1)" font-size="11.92" font-weight="normal" fill="#2a2a2a" stroke="#2a2a2a" stroke-width="0.35">4</text>
<text transform="translate(754.47,396.70) scale(1.141,1)" font-size="11.92" font-weight="normal" fill="#2a2a2a" stroke="#2a2a2a" stroke-width="0.33">0</text>
<text transform="translate(154.52,409.70) scale(1.141,1)" font-size="11.92" font-weight="normal" fill="#2a2a2a" stroke="#2a2a2a" stroke-width="0.33">0</text>
<text transform="translate(268.76,409.70) scale(1.230,1)" font-size="11.92" font-weight="normal" fill="#2a2a2a" stroke="#2a2a2a" stroke-width="0.31">20</text>
<text transform="translate(387.67,409.70) scale(1.198,1)" font-size="11.92" font-weight="normal" fill="#2a2a2a" stroke="#2a2a2a" stroke-width="0.32">40</text>
<text transform="translate(505.26,409.70) scale(1.231,1)" font-size="11.92" font-weight="normal" fill="#2a2a2a" stroke="#2a2a2a" stroke-width="0.31">60</text>
<text transform="translate(623.87,409.70) scale(1.222,1)" font-size="11.92" font-weight="normal" fill="#2a2a2a" stroke="#2a2a2a" stroke-width="0.31">80</text>
<text transform="translate(729.09,409.50) scale(1.289,1)" font-size="11.63" font-weight="normal" fill="#2a2a2a" stroke="#2a2a2a" stroke-width="0.22">Q m³/h</text>
<text transform="translate(131.84,430.20) scale(1.268,1)" font-size="11.19" font-weight="normal" fill="#2a2a2a" stroke="#2a2a2a" stroke-width="0.30">P1</text>
<text transform="translate(136.44,445.70) scale(1.225,1)" font-size="10.47" font-weight="normal" fill="#2a2a2a" stroke="#2a2a2a" stroke-width="0.31">W</text>
<text transform="translate(114.42,486.00) scale(1.254,1)" font-size="11.34" font-weight="normal" fill="#2a2a2a" stroke="#2a2a2a" stroke-width="0.30">1000</text>
<text transform="translate(122.90,529.00) scale(1.224,1)" font-size="11.34" font-weight="normal" fill="#2a2a2a" stroke="#2a2a2a" stroke-width="0.31">800</text>
<text transform="translate(122.79,571.80) scale(1.229,1)" font-size="11.34" font-weight="normal" fill="#2a2a2a" stroke="#2a2a2a" stroke-width="0.31">600</text>
<text transform="translate(123.19,615.00) scale(1.208,1)" font-size="11.34" font-weight="normal" fill="#2a2a2a" stroke="#2a2a2a" stroke-width="0.31">400</text>
<text transform="translate(122.80,658.30) scale(1.229,1)" font-size="11.34" font-weight="normal" fill="#2a2a2a" stroke="#2a2a2a" stroke-width="0.31">200</text>
<text transform="translate(139.97,700.20) scale(1.215,1)" font-size="11.19" font-weight="normal" fill="#2a2a2a" stroke="#2a2a2a" stroke-width="0.31">0</text>
<text transform="translate(154.52,712.70) scale(1.141,1)" font-size="11.92" font-weight="normal" fill="#2a2a2a" stroke="#2a2a2a" stroke-width="0.33">0</text>
<text transform="translate(267.49,712.70) scale(1.271,1)" font-size="11.92" font-weight="normal" fill="#2a2a2a" stroke="#2a2a2a" stroke-width="0.30">20</text>
<text transform="translate(387.41,712.70) scale(1.238,1)" font-size="11.92" font-weight="normal" fill="#2a2a2a" stroke="#2a2a2a" stroke-width="0.31">40</text>
<text transform="translate(505.98,712.70) scale(1.272,1)" font-size="11.92" font-weight="normal" fill="#2a2a2a" stroke="#2a2a2a" stroke-width="0.30">60</text>
<text transform="translate(623.60,712.70) scale(1.263,1)" font-size="11.92" font-weight="normal" fill="#2a2a2a" stroke="#2a2a2a" stroke-width="0.30">80</text>
<text transform="translate(728.68,713.60) scale(1.334,1)" font-size="11.34" font-weight="normal" fill="#2a2a2a" stroke="#2a2a2a" stroke-width="0.21">Q m³/h</text>
<text transform="translate(155.01,735.20) scale(1.053,1)" font-size="11.92" font-weight="normal" fill="#2a2a2a" stroke="#2a2a2a" stroke-width="0.36">0</text>
<text transform="translate(361.35,735.20) scale(1.262,1)" font-size="11.92" font-weight="normal" fill="#2a2a2a" stroke="#2a2a2a" stroke-width="0.30">10</text>
<text transform="translate(573.78,735.20) scale(1.197,1)" font-size="11.92" font-weight="normal" fill="#2a2a2a" stroke="#2a2a2a" stroke-width="0.32">20</text>
<text transform="translate(728.68,734.30) scale(1.257,1)" font-size="12.06" font-weight="normal" fill="#2a2a2a" stroke="#2a2a2a" stroke-width="0.22">Q l/s</text>
<text transform="translate(155.01,760.70) scale(1.121,1)" font-size="11.19" font-weight="normal" fill="#2a2a2a" stroke="#2a2a2a" stroke-width="0.34">0</text>
<text transform="translate(321.87,761.20) scale(1.320,1)" font-size="11.92" font-weight="normal" fill="#2a2a2a" stroke="#2a2a2a" stroke-width="0.29">500</text>
<text transform="translate(496.42,761.20) scale(1.193,1)" font-size="11.92" font-weight="normal" fill="#2a2a2a" stroke="#2a2a2a" stroke-width="0.32">1000</text>
<text transform="translate(671.88,761.20) scale(1.229,1)" font-size="11.92" font-weight="normal" fill="#2a2a2a" stroke="#2a2a2a" stroke-width="0.31">1500</text>
<text transform="translate(728.70,762.30) scale(1.247,1)" font-size="11.92" font-weight="normal" fill="#2a2a2a" stroke="#2a2a2a" stroke-width="0.22">Q l/min</text>
<text transform="translate(637.92,125.30) scale(0.896,1)" font-size="17.88" font-weight="normal" fill="#2a2a2a" stroke="#2a2a2a" stroke-width="0.31">Δp-v Curves</text>
</svg>
</body></html>
